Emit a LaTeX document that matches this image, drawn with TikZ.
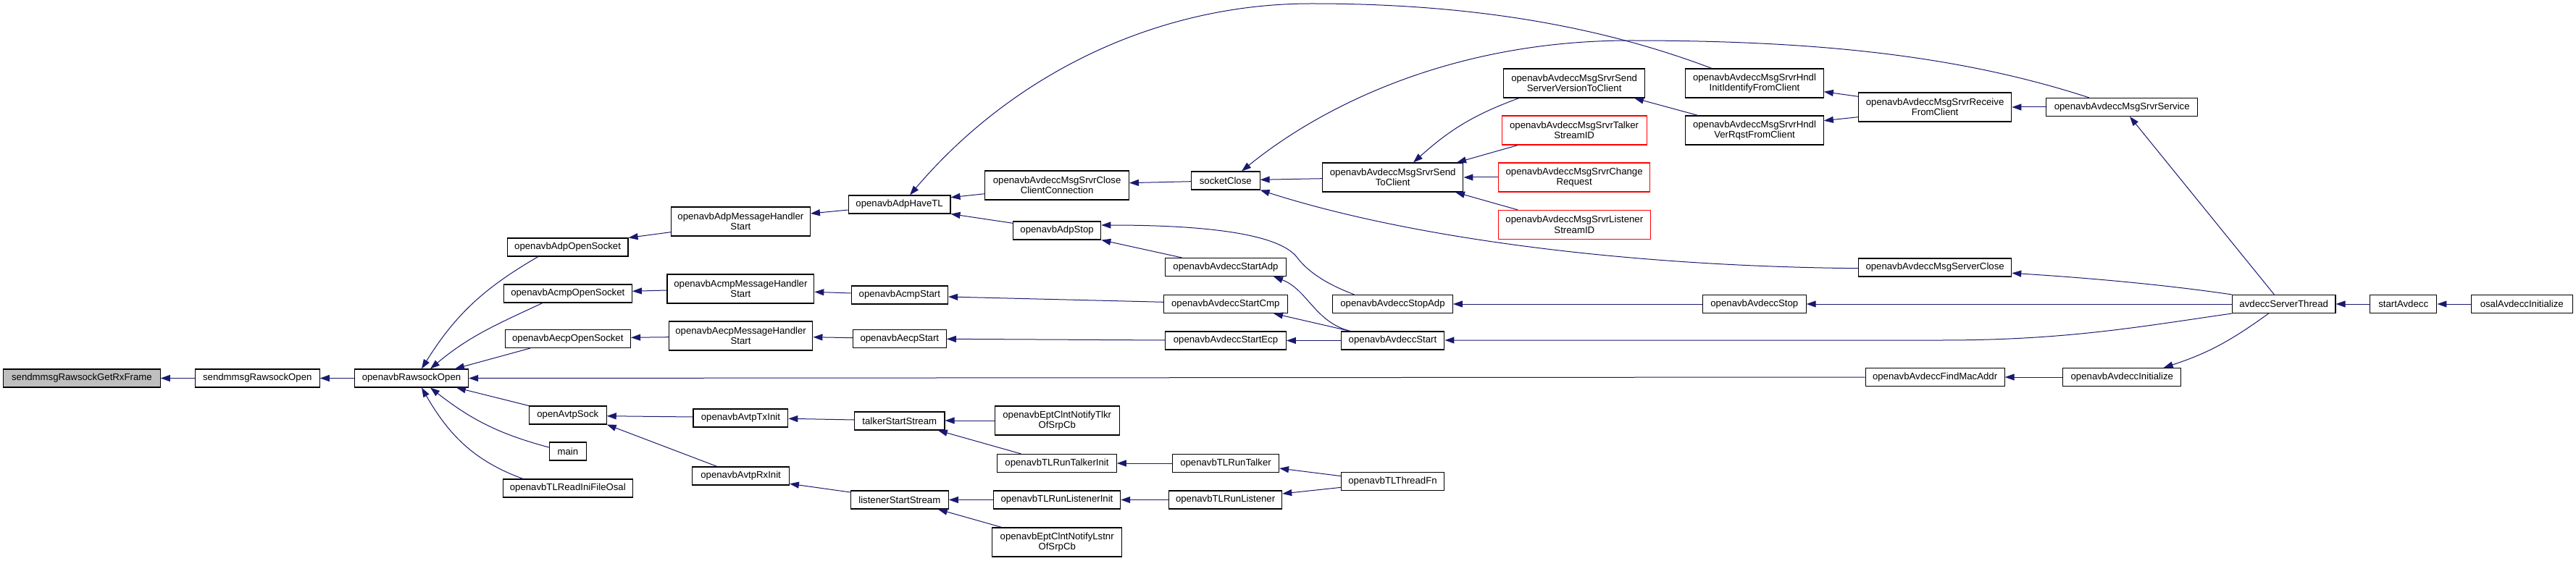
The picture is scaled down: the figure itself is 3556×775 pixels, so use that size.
\documentclass[tikz,border=0pt]{standalone}
\usepackage{fontspec}
\setmainfont{Liberation Sans}
\usetikzlibrary{arrows.meta}
\definecolor{edgeblue}{HTML}{191970}
\definecolor{nodegray}{HTML}{BFBFBF}
\begin{document}
\begin{tikzpicture}[x=1pt,y=-1pt,
  fn/.style={draw=black,line width=1.1pt,rectangle,inner sep=0pt,align=center,font=\fontsize{13.2}{14.5}\selectfont,fill=white},
  fnred/.style={fn,draw=red},
  fncur/.style={fn,fill=nodegray},
  one/.style={minimum height=25pt},
  two/.style={minimum height=40pt},
  call/.style={draw=edgeblue,line width=1pt,-{Triangle[length=13pt,width=9pt]}}]
\useasboundingbox (0,0) rectangle (3556,775);
% nodes
\node[fncur,one,minimum width=216.6pt] (getrx) at (112.9,522.5) {sendmmsgRawsockGetRxFrame};
\node[fn,one,minimum width=171.8pt] (smopen) at (355.3,522.5) {sendmmsgRawsockOpen};
\node[fn,one,minimum width=157.2pt] (rawopen) at (568,522.5) {openavbRawsockOpen};
\node[fn,one,minimum width=166.8pt] (adpopen) at (783.6,341.5) {openavbAdpOpenSocket};
\node[fn,two,minimum width=192pt] (adpmh) at (1022.4,306) {openavbAdpMessageHandler\\Start};
\node[fn,one,minimum width=140.7pt] (havetl) at (1241.6,282.5) {openavbAdpHaveTL};
\node[fn,one,minimum width=177.2pt] (acmpopen) at (783.8,405.5) {openavbAcmpOpenSocket};
\node[fn,two,minimum width=202.8pt] (acmpmh) at (1022.4,399) {openavbAcmpMessageHandler\\Start};
\node[fn,one,minimum width=173.4pt] (aecpopen) at (783.8,468) {openavbAecpOpenSocket};
\node[fn,two,minimum width=198.6pt] (aecpmh) at (1022.6,464) {openavbAecpMessageHandler\\Start};
\node[fn,one,minimum width=106.8pt] (avtpsock) at (783.8,573.5) {openAvtpSock};
\node[fn,one,minimum width=50.9pt] (main) at (783.8,623.5) {main};
\node[fn,one,minimum width=178.7pt] (inifile) at (783.8,674.5) {openavbTLReadIniFileOsal};
\node[fn,one,minimum width=130.8pt] (txinit) at (1022.4,577.5) {openavbAvtpTxInit};
\node[fn,one,minimum width=133.6pt] (rxinit) at (1022.6,657.5) {openavbAvtpRxInit};
\node[fn,one,minimum width=133.5pt] (acmpstart) at (1241.8,407.5) {openavbAcmpStart};
\node[fn,one,minimum width=129pt] (aecpstart) at (1241.8,468) {openavbAecpStart};
\node[fn,one,minimum width=124.3pt] (talkerstart) at (1241.8,581.5) {talkerStartStream};
\node[fn,one,minimum width=135pt] (listenerstart) at (1241.8,690.5) {listenerStartStream};
\node[fn,two,minimum width=198.6pt] (closecc) at (1459.1,256) {openavbAvdeccMsgSrvrClose\\ClientConnection};
\node[fn,one,minimum width=94.5pt] (socketclose) at (1691.8,249.5) {socketClose};
\node[fn,one,minimum width=121.3pt] (adpstop) at (1459.1,318.5) {openavbAdpStop};
\node[fn,one,minimum width=166.8pt] (startadp) at (1692,369) {openavbAvdeccStartAdp};
\node[fn,one,minimum width=171pt] (startcmp) at (1691.8,420) {openavbAvdeccStartCmp};
\node[fn,one,minimum width=166.8pt] (startecp) at (1692,470.5) {openavbAvdeccStartEcp};
\node[fn,two,minimum width=171.9pt] (notifytlkr) at (1459.2,581) {openavbEptClntNotifyTlkr\\OfSrpCb};
\node[fn,one,minimum width=164.5pt] (runtalkerinit) at (1459,640) {openavbTLRunTalkerInit};
\node[fn,one,minimum width=147pt] (runtalker) at (1692,640) {openavbTLRunTalker};
\node[fn,one,minimum width=175.3pt] (runlistenerinit) at (1459,690.5) {openavbTLRunListenerInit};
\node[fn,one,minimum width=156.1pt] (runlistener) at (1691.6,690.5) {openavbTLRunListener};
\node[fn,two,minimum width=178.7pt] (notifylstnr) at (1459.2,749) {openavbEptClntNotifyLstnr\\OfSrpCb};
\node[fn,two,minimum width=194.8pt] (ssvtc) at (2173.1,115) {openavbAvdeccMsgSrvrSend\\ServerVersionToClient};
\node[fnred,two,minimum width=200.1pt] (talkerstreamid) at (2173.1,180) {openavbAvdeccMsgSrvrTalker\\StreamID};
\node[fnred,two,minimum width=209.3pt] (changereq) at (2173.1,245) {openavbAvdeccMsgSrvrChange\\Request};
\node[fnred,two,minimum width=210.5pt] (listenerstreamid) at (2173.3,310.5) {openavbAvdeccMsgSrvrListener\\StreamID};
\node[fn,two,minimum width=194.4pt] (sendtoclient) at (1922.7,245) {openavbAvdeccMsgSrvrSend\\ToClient};
\node[fn,two,minimum width=190.5pt] (hndlinit) at (2422,115) {openavbAvdeccMsgSrvrHndl\\InitIdentifyFromClient};
\node[fn,two,minimum width=190.5pt] (hndlver) at (2422,180) {openavbAvdeccMsgSrvrHndl\\VerRqstFromClient};
\node[fn,one,minimum width=165.7pt] (stopadp) at (1922.5,420) {openavbAvdeccStopAdp};
\node[fn,one,minimum width=142.8pt] (avdstart) at (1922.5,470.5) {openavbAvdeccStart};
\node[fn,one,minimum width=141.2pt] (threadfn) at (1922.5,665) {openavbTLThreadFn};
\node[fn,one,minimum width=142.7pt] (avdstop) at (2421.8,420) {openavbAvdeccStop};
\node[fn,two,minimum width=211.2pt] (receive) at (2671.1,148) {openavbAvdeccMsgSrvrReceive\\FromClient};
\node[fn,one,minimum width=208.6pt] (srvrservice) at (2929.2,148) {openavbAvdeccMsgSrvrService};
\node[fn,one,minimum width=211.2pt] (serverclose) at (2671.1,369.5) {openavbAvdeccMsgServerClose};
\node[fn,one,minimum width=192pt] (findmac) at (2671.1,521) {openavbAvdeccFindMacAddr};
\node[fn,one,minimum width=162.8pt] (avdinit) at (2929.3,521) {openavbAvdeccInitialize};
\node[fn,one,minimum width=142.6pt] (serverthread) at (3152.7,420) {avdeccServerThread};
\node[fn,one,minimum width=92.4pt] (startavdecc) at (3317.7,420) {startAvdecc};
\node[fn,one,minimum width=139.6pt] (osalinit) at (3481.2,420) {osalAvdeccInitialize};
% edges
\draw[call] (smopen.west) -- (getrx.east);
\draw[call] (rawopen.west) -- (smopen.east);
\draw[call] (adpopen.south -| 743,0) to[out=210,in=58] (rawopen.north -| 582,0);
\draw[call] (acmpopen.south -| 749,0) to[out=205,in=40] (rawopen.north -| 594,0);
\draw[call] (aecpopen.south -| 732,0) -- (rawopen.north -| 628,0);
\draw[call] (avtpsock.north west) -- (rawopen.south -| 630,0);
\draw[call] (main.west |- 0,618) to[out=165,in=-38] (rawopen.south -| 594,0);
\draw[call] (inifile.north -| 722,0) to[out=160,in=-60] (rawopen.south -| 582,0);
\draw[call] (findmac.west) -- (rawopen.east);
\draw[call] (adpmh.west |- 0,320.7) -- (adpopen.north east);
\draw[call] (havetl.west |- 0,290) -- (adpmh.east |- 0,295);
\draw[call] (acmpmh.west |- 0,401) -- (acmpopen.east |- 0,402.3);
\draw[call] (acmpstart.west |- 0,405) -- (acmpmh.east |- 0,403.3);
\draw[call] (aecpmh.west |- 0,465.7) -- (aecpopen.east |- 0,466.3);
\draw[call] (aecpstart.west |- 0,466.7) -- (aecpmh.east |- 0,465.7);
\draw[call] (txinit.west |- 0,576) -- (avtpsock.east |- 0,574.7);
\draw[call] (rxinit.north -| 990,0) -- (avtpsock.south east);
\draw[call] (talkerstart.west |- 0,580) -- (txinit.east |- 0,578.3);
\draw[call] (listenerstart.west |- 0,680) -- (rxinit.east |- 0,668.3);
\draw[call] (closecc.west |- 0,267.7) -- (havetl.east |- 0,272.7);
\draw[call] (adpstop.west |- 0,308.3) -- (havetl.south east);
\draw[call] (hndlinit.north -| 2363,0) .. controls (2180,25) and (1990,5) .. (1810,5) .. controls (1600,5) and (1400,100) .. (havetl.north -| 1256,0);
\draw[call] (socketclose.west |- 0,250.7) -- (closecc.east |- 0,252.7);
\draw[call] (stopadp.north -| 1869.5,0) .. controls (1830,392) and (1805,375) .. (1790,355) .. controls (1770,330) and (1700,311) .. (adpstop.east |- 0,311);
\draw[call] (startadp.north -| 1631.5,0) -- (adpstop.south east);
\draw[call] (avdstart.north -| 1864,0) .. controls (1815,445) and (1805,400) .. (startadp.south -| 1758,0);
\draw[call] (avdstart.north -| 1864,0) -- (startcmp.south -| 1758,0);
\draw[call] (avdstart.west) -- (startecp.east);
\draw[call] (startcmp.west |- 0,417.3) -- (acmpstart.east |- 0,410);
\draw[call] (startecp.west |- 0,470) -- (aecpstart.east |- 0,468.3);
\draw[call] (sendtoclient.west |- 0,246.7) -- (socketclose.east |- 0,248.3);
\draw[call] (srvrservice.north -| 2884,0) .. controls (2700,75) and (2500,56) .. (2250,56) .. controls (2000,56) and (1820,150) .. (socketclose.north -| 1714,0);
\draw[call] (serverclose.west |- 0,370.7) .. controls (2250,368) and (1950,330) .. (socketclose.south east);
\draw[call] (ssvtc.south -| 2097,0) to[out=200,in=42] (sendtoclient.north -| 1951,0);
\draw[call] (talkerstreamid.south -| 2095.3,0) -- (sendtoclient.north -| 2011,0);
\draw[call] (changereq.west) -- (sendtoclient.east);
\draw[call] (listenerstreamid.north -| 2095.3,0) -- (sendtoclient.south -| 2009,0);
\draw[call] (hndlver.north -| 2344,0) -- (ssvtc.south -| 2256,0);
\draw[call] (receive.west |- 0,133.3) -- (hndlinit.east |- 0,126.7);
\draw[call] (receive.west |- 0,161.7) -- (hndlver.east |- 0,166.7);
\draw[call] (srvrservice.west) -- (receive.east);
\draw[call] (serverthread.north -| 3139.4,0) -- (srvrservice.south -| 2940,0);
\draw[call] (serverthread.north west) .. controls (3000,395) and (2900,385) .. (serverclose.east |- 0,377.3);
\draw[call] (serverthread.west) -- (avdstop.east);
\draw[call] (serverthread.south west) .. controls (2950,452) and (2850,470) .. (2680,470) -- (avdstart.east |- 0,470);
\draw[call] (serverthread.south -| 3131.6,0) to[out=216,in=18] (avdinit.north -| 2986.7,0);
\draw[call] (avdstop.west) -- (stopadp.east);
\draw[call] (startavdecc.west) -- (serverthread.east);
\draw[call] (osalinit.west) -- (startavdecc.east);
\draw[call] (avdinit.west) -- (findmac.east);
\draw[call] (runtalkerinit.north -| 1409.6,0) -- (talkerstart.south -| 1294.8,0);
\draw[call] (notifytlkr.west |- 0,581) -- (talkerstart.east |- 0,581);
\draw[call] (runlistenerinit.west) -- (listenerstart.east);
\draw[call] (notifylstnr.north -| 1382.8,0) -- (listenerstart.south -| 1294.8,0);
\draw[call] (runtalker.west) -- (runtalkerinit.east);
\draw[call] (runlistener.west) -- (runlistenerinit.east);
\draw[call] (threadfn.west |- 0,657.7) -- (runtalker.east |- 0,647);
\draw[call] (threadfn.west |- 0,673.3) -- (runlistener.east |- 0,682);
\end{tikzpicture}
\end{document}
